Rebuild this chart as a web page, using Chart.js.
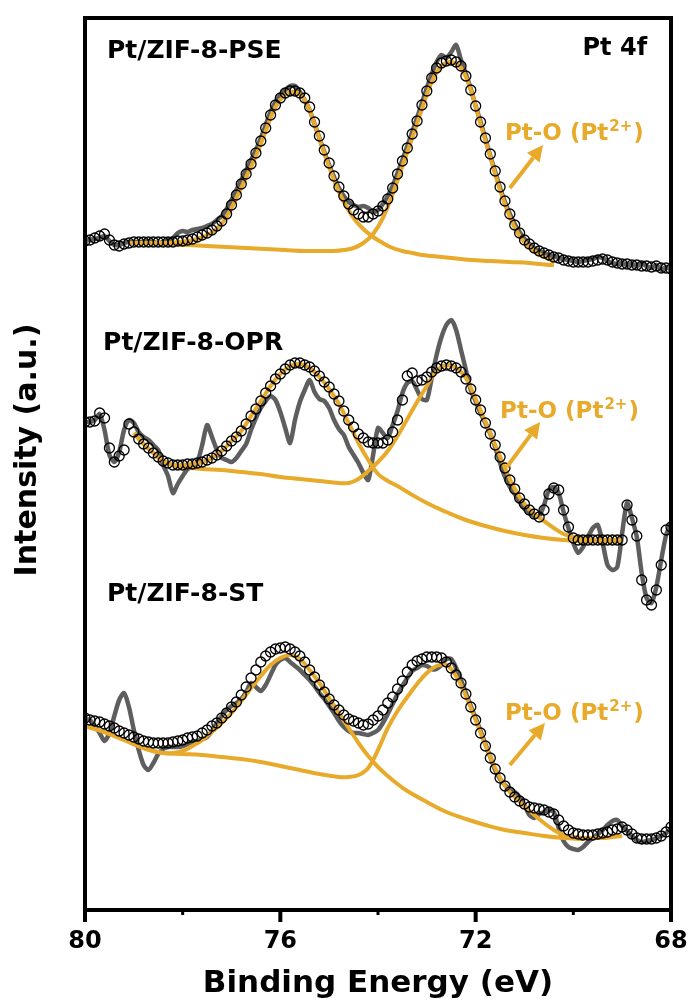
<!DOCTYPE html>
<html><head><meta charset="utf-8">
<script src="https://cdn.jsdelivr.net/npm/chart.js@4.4.1/dist/chart.umd.min.js"></script>
<style>html,body{margin:0;padding:0;background:#fff}#wrap{width:688px;height:1003px;position:relative}</style>
</head><body><div id="wrap"><canvas id="c" width="688" height="1003"></canvas></div>
<script>
// Binding energy grid (eV)
const energy = [
80.0,79.9,79.8,79.7,79.6,79.5,79.4,79.3,79.2,79.1,
79.0,78.9,78.8,78.7,78.6,78.5,78.4,78.3,78.2,78.1,
78.0,77.9,77.8,77.7,77.6,77.5,77.4,77.3,77.2,77.1,
77.0,76.9,76.8,76.7,76.6,76.5,76.4,76.3,76.2,76.1,
76.0,75.9,75.8,75.7,75.6,75.5,75.4,75.3,75.2,75.1,
75.0,74.9,74.8,74.7,74.6,74.5,74.4,74.3,74.2,74.1,
74.0,73.9,73.8,73.7,73.6,73.5,73.4,73.3,73.2,73.1,
73.0,72.9,72.8,72.7,72.6,72.5,72.4,72.3,72.2,72.1,
72.0,71.9,71.8,71.7,71.6,71.5,71.4,71.3,71.2,71.1,
71.0,70.9,70.8,70.7,70.6,70.5,70.4,70.3,70.2,70.1,
70.0,69.9,69.8,69.7,69.6,69.5,69.4,69.3,69.2,69.1,
69.0,68.9,68.8,68.7,68.6,68.5,68.4,68.3,68.2,68.1,
68.0];

// Pt/ZIF-8-PSE (offset stacked, a.u.)
const pseEnvelope = [
759,760,762,764,766,760,755,754,756,757,
758,758,758,758,758,758,758,758,758,759,
759,760,761,763,765,767,770,774,779,786,
795,805,816,826,836,847,859,872,885,895,
902,907,909,909,907,902,893,878,864,850,
837,824,813,804,796,790,786,783,783,786,
789,794,801,812,826,839,852,866,879,895,
909,922,932,937,939,940,938,934,924,910,
894,878,862,846,829,813,799,786,775,767,
760,756,752,749,747,745,743,742,740,739,
738,738,738,738,739,740,741,740,738,737,
736,736,735,735,734,734,733,734,732,732,
731];
const pseRaw = [
759,760,761,762,764,759,755,755,757,758,
758,758,758,759,758,757,758,760,762,767,
769,768,770,771,772,774,776,780,784,791,
800,810,820,830,840,850,862,875,888,898,
905,910,914,914,908,900,890,876,862,848,
835,823,812,804,798,795,793,794,792,788,
790,796,804,814,827,840,854,868,882,897,
912,926,938,945,942,948,955,940,926,911,
894,878,861,844,828,812,798,786,776,768,
761,756,752,749,747,745,744,742,741,740,
739,738,739,740,741,743,742,739,737,736,
737,735,736,734,736,734,732,735,730,733,
730];
const pseFit1E = [79.1,78.9,78.7,78.5,78.3,78.1,77.9,77.7,77.5,77.3,77.1,76.9,76.7,76.5,76.3,76.1,75.9,75.7,75.5,75.3,75.1,74.9,74.7,74.5,74.3,74.1,73.9,73.7,73.5,73.3,73.1,72.9,72.7,72.5,72.1,71.7,71.3,70.9,70.5,70.4];
const pseFit1 = [757,757,757,757,757,758,759,761,765,771,783,802,823,844,869,893,905,908,900,876,847,820,798,782,771,763,757,752,749,747,745,744,743,742,740,739,738,737,735,735];
const pseFit2E = [79.1,78.7,78.3,77.9,77.5,77.1,76.7,76.3,75.9,75.5,75.1,74.9,74.7,74.5,74.3,74.1,73.9,73.7,73.5,73.3,73.1,72.9,72.7,72.5,72.3,72.1,71.9,71.7,71.5,71.3,71.1,70.9,70.7,70.5,70.4];
const pseFit2 = [757,757,756,755,754,753,752,751,750,749,749,749,750,752,757,766,782,806,834,862,891,918,934,938,932,910,876,843,810,783,764,753,746,741,738];

// Pt/ZIF-8-OPR
const oprEnvelope = [
578,578,579,587,582,552,538,544,550,576,
568,561,556,552,547,543,539,537,535,535,
535,536,536,537,538,540,542,545,549,554,
559,563,569,576,584,591,599,607,614,621,
626,631,635,637,637,635,633,629,624,618,
613,606,599,589,580,573,566,562,558,557,
557,557,560,568,580,600,624,627,619,620,
623,628,632,634,635,634,632,628,621,611,
600,590,577,566,555,543,532,520,511,502,
496,490,486,483,490,506,512,510,490,473,
462,460,460,460,460,460,460,460,460,460,
460,495,480,464,420,400,395,410,435,470,
473];
const oprRaw = [
578,578,580,586,570,545,538,548,570,580,
577,568,563,560,555,550,535,524,507,516,
524,531,533,538,555,575,563,550,542,540,
538,542,549,556,570,582,592,599,604,600,
588,572,557,580,598,610,620,608,601,599,
592,580,571,565,553,545,537,527,520,545,
572,567,562,575,589,607,617,619,610,601,
600,622,645,663,675,680,670,650,630,610,
599,587,577,566,553,537,523,513,506,498,
491,487,484,484,495,510,513,507,488,472,
457,447,453,463,472,475,457,435,430,433,
467,497,482,463,427,402,397,413,440,465,
477];
const oprFit1E = [79.0,78.8,78.6,78.4,78.2,78.0,77.8,77.6,77.4,77.2,77.0,76.8,76.6,76.4,76.2,76.0,75.8,75.6,75.4,75.2,75.0,74.8,74.6,74.4,74.2,74.0,73.8,73.6,73.4,73.0,72.6,72.2,71.8,71.4,71.0,70.6,70.2,69.8,69.4,69.0];
const oprFit1 = [567,556,547,539,535,535,536,538,542,549,559,569,584,599,614,626,634,636,632,623,611,596,577,557,540,526,519,514,508,497,488,480,474,469,465,462,460,459,459,459];
const oprFit2E = [79.0,78.8,78.6,78.4,78.2,78.0,77.6,77.2,76.8,76.4,76.0,75.6,75.2,74.8,74.6,74.4,74.2,74.0,73.8,73.6,73.4,73.2,73.0,72.8,72.6,72.4,72.2,72.0,71.8,71.6,71.4,71.2,71.0,70.8,70.6,70.4,70.2,70.0,69.8,69.6,69.4,69.2,69.0];
const oprFit2 = [567,556,547,539,535,533,531,530,528,526,523,521,519,517,517,521,529,538,549,564,581,598,614,629,635,632,622,601,578,555,532,511,496,486,479,472,466,463,461,460,460,460,460];

// Pt/ZIF-8-ST
const stEnvelope = [
282,280,279,278,276,274,272,269,267,265,
263,261,259,258,257,257,257,257,258,259,
260,262,263,264,267,270,274,277,282,287,
293,298,305,313,322,330,338,344,348,351,
352,353,351,348,344,338,330,323,315,308,
301,295,290,285,281,279,277,275,276,280,
284,290,297,303,311,319,328,335,339,341,
343,343,343,342,338,332,325,317,306,293,
280,267,254,242,231,222,214,208,203,199,
196,193,192,191,190,188,186,180,174,170,
167,166,165,165,165,166,167,168,170,171,
173,170,166,162,161,161,161,162,164,168,
173];
const stRaw = [
281,280,274,267,259,267,284,300,307,293,
270,250,235,230,237,246,251,253,253,253,
254,256,258,259,261,263,269,277,284,290,
294,297,301,308,317,313,309,315,325,335,
340,342,338,334,330,325,320,314,307,301,
294,287,279,273,269,267,267,266,265,267,
270,277,286,296,306,314,322,329,332,335,
334,331,331,335,341,341,332,320,307,294,
282,269,256,243,230,221,215,211,208,203,
195,185,182,186,188,190,188,172,159,153,
151,150,153,158,162,166,170,175,179,180,
174,169,164,160,158,159,160,162,164,167,
172];
const stFit1E = [80.0,79.8,79.6,79.4,79.2,79.0,78.8,78.6,78.4,78.2,78.0,77.8,77.6,77.4,77.2,77.0,76.8,76.6,76.4,76.2,76.0,75.8,75.6,75.4,75.2,75.0,74.8,74.6,74.4,74.2,74.0,73.8,73.6,73.4,73.0,72.6,72.2,71.8,71.4,71.0,70.6,70.2,69.8];
const stFit1 = [274,271,268,264,260,256,252,249,247,247,249,254,260,268,277,287,299,312,324,335,342,345,341,330,317,302,287,272,257,244,233,224,216,209,198,188,181,175,170,167,164,162,161];
const stFit2E = [80.0,79.6,79.2,78.8,78.4,78.0,77.6,77.2,76.8,76.4,76.0,75.6,75.2,74.8,74.6,74.4,74.2,74.0,73.8,73.6,73.4,73.2,73.0,72.8,72.6,72.4,72.2,72.0,71.8,71.6,71.4,71.2,71.0,70.8,70.6,70.4,70.2,70.0,69.8,69.6,69.4,69.2,69.0];
const stFit2 = [274,268,260,252,247,246,245,243,241,238,234,230,226,223,223,225,232,250,272,289,303,316,327,334,335,324,304,280,255,232,214,203,194,185,177,170,165,163,162,162,162,163,164];

// axis ticks
const xMajorTicks = [80, 76, 72, 68];
const xMinorTicks = [78, 74, 70];

// annotations (data units)
const sampleLabels = [
  {text: 'Pt/ZIF-8-PSE', e: 79.55, i: 942},
  {text: 'Pt/ZIF-8-OPR', e: 79.63, i: 650},
  {text: 'Pt/ZIF-8-ST',  e: 79.55, i: 399}
];
const coreLevel = {text: 'Pt 4f', e: 68.49, i: 945};
const ptoLabels = [
  {e: 71.40, i: 860, tailE: 71.30, tailI: 812, headE: 70.62, headI: 855},
  {e: 71.50, i: 582, tailE: 71.36, tailI: 533, headE: 70.68, headI: 578},
  {e: 71.40, i: 280, tailE: 71.30, tailI: 235, headE: 70.58, headI: 277}
];
const yTitle = 'Intensity (a.u.)';

const FONT = "'DejaVu Sans', 'Liberation Sans', sans-serif";
const ORANGE = '#E8AA2A';
const GREY = 'rgba(80,80,80,0.92)';

const pts = (xs, ys) => xs.map((x, k) => ({x: x, y: ys[k]}));

function spectrumDatasets(env, raw, f1E, f1, f2E, f2) {
  return [
    {data: pts(energy, env), showLine: false, pointRadius: 5, pointBorderWidth: 1.3,
     pointBorderColor: '#000', pointBackgroundColor: 'rgba(0,0,0,0)', order: 0},
    {data: pts(f1E, f1), showLine: true, borderColor: ORANGE, borderWidth: 4, pointRadius: 0, tension: 0.4, order: 1},
    {data: pts(f2E, f2), showLine: true, borderColor: ORANGE, borderWidth: 4, pointRadius: 0, tension: 0.4, order: 1},
    {data: pts(energy, raw), showLine: true, borderColor: GREY, borderWidth: 4.5, pointRadius: 0, tension: 0.25, order: 2}
  ];
}

const overlay = {
  id: 'overlay',
  afterDraw(chart) {
    const ctx = chart.ctx, a = chart.chartArea;
    const xs = chart.scales.x, ys = chart.scales.y;
    ctx.save();
    // frame
    ctx.strokeStyle = '#000';
    ctx.lineWidth = 4;
    ctx.strokeRect(a.left, a.top, a.right - a.left, a.bottom - a.top);
    // ticks
    ctx.lineCap = 'butt';
    xMajorTicks.forEach(v => {
      const px = xs.getPixelForValue(v);
      ctx.lineWidth = 4;
      ctx.beginPath(); ctx.moveTo(px, a.bottom); ctx.lineTo(px, a.bottom + 12); ctx.stroke();
    });
    xMinorTicks.forEach(v => {
      const px = xs.getPixelForValue(v);
      ctx.lineWidth = 3;
      ctx.beginPath(); ctx.moveTo(px, a.bottom); ctx.lineTo(px, a.bottom + 5); ctx.stroke();
    });
    // y-axis title
    ctx.fillStyle = '#000';
    ctx.save();
    ctx.translate(28, ys.getPixelForValue(550));
    ctx.rotate(-Math.PI / 2);
    ctx.textAlign = 'center'; ctx.textBaseline = 'middle';
    ctx.font = 'bold 30px ' + FONT;
    ctx.fillText(yTitle, 0, 0);
    ctx.restore();
    // sample labels
    ctx.textBaseline = 'alphabetic';
    ctx.font = 'bold 25px ' + FONT;
    ctx.textAlign = 'left';
    sampleLabels.forEach(l => ctx.fillText(l.text, xs.getPixelForValue(l.e), ys.getPixelForValue(l.i)));
    ctx.font = 'bold 24px ' + FONT;
    ctx.textAlign = 'right';
    ctx.fillText(coreLevel.text, xs.getPixelForValue(coreLevel.e), ys.getPixelForValue(coreLevel.i));
    // Pt-O labels and arrows
    ctx.textAlign = 'left';
    ctx.fillStyle = ORANGE; ctx.strokeStyle = ORANGE;
    ptoLabels.forEach(l => {
      const x = xs.getPixelForValue(l.e), y = ys.getPixelForValue(l.i);
      ctx.font = 'bold 23px ' + FONT;
      const main = 'Pt-O (Pt';
      ctx.fillText(main, x, y);
      const w = ctx.measureText(main).width;
      ctx.font = 'bold 15px ' + FONT;
      ctx.fillText('2+', x + w + 1, y - 9);
      const w2 = ctx.measureText('2+').width;
      ctx.font = 'bold 23px ' + FONT;
      ctx.fillText(')', x + w + w2 + 2, y);
      // arrow
      const tx = xs.getPixelForValue(l.tailE), ty = ys.getPixelForValue(l.tailI);
      const hx = xs.getPixelForValue(l.headE), hy = ys.getPixelForValue(l.headI);
      const ang = Math.atan2(hy - ty, hx - tx);
      const hl = 16, hw = 8;
      const bx = hx - hl * Math.cos(ang), by = hy - hl * Math.sin(ang);
      ctx.lineWidth = 4;
      ctx.beginPath(); ctx.moveTo(tx, ty); ctx.lineTo(bx, by); ctx.stroke();
      ctx.beginPath();
      ctx.moveTo(hx, hy);
      ctx.lineTo(bx + hw * Math.sin(ang), by - hw * Math.cos(ang));
      ctx.lineTo(bx - hw * Math.sin(ang), by + hw * Math.cos(ang));
      ctx.closePath(); ctx.fill();
    });
    ctx.restore();
  }
};

new Chart(document.getElementById('c'), {
  type: 'scatter',
  data: {
    datasets: [
      ...spectrumDatasets(pseEnvelope, pseRaw, pseFit1E, pseFit1, pseFit2E, pseFit2),
      ...spectrumDatasets(oprEnvelope, oprRaw, oprFit1E, oprFit1, oprFit2E, oprFit2),
      ...spectrumDatasets(stEnvelope, stRaw, stFit1E, stFit1, stFit2E, stFit2)
    ]
  },
  options: {
    responsive: false,
    animation: false,
    devicePixelRatio: 1,
    layout: {padding: {top: 18, right: 17, left: 0, bottom: 0}},
    plugins: {legend: {display: false}, tooltip: {enabled: false}},
    scales: {
      x: {
        type: 'linear', reverse: true, min: 68, max: 80,
        grid: {display: false, drawTicks: false},
        border: {display: false},
        afterBuildTicks: s => { s.ticks = xMajorTicks.map(v => ({value: v})); },
        afterFit: s => { s.height = 93; s.paddingLeft = 0; s.paddingRight = 0; },
        ticks: {color: '#000', padding: 17, maxRotation: 0, autoSkip: false,
                font: {family: FONT, size: 24, weight: 'bold'}},
        title: {display: true, text: 'Binding Energy (eV)', color: '#000', padding: {top: 0, bottom: 0},
                font: {family: FONT, size: 31, weight: 'bold'}}
      },
      y: {
        type: 'linear', min: 90, max: 982,
        grid: {display: false, drawTicks: false},
        border: {display: false},
        ticks: {display: false},
        afterFit: s => { s.width = 85; },
        title: {display: false, text: yTitle}
      }
    }
  },
  plugins: [overlay]
});
</script>
</body></html>
